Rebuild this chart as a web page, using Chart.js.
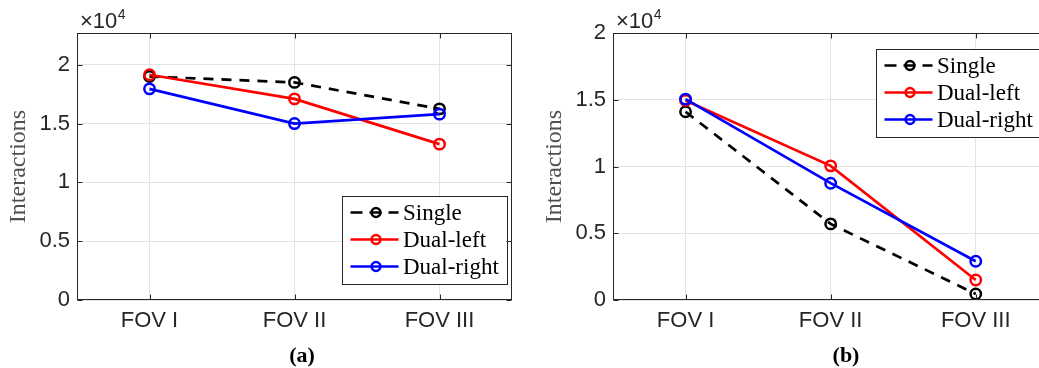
<!DOCTYPE html>
<html><head><meta charset="utf-8">
<script src="https://cdn.jsdelivr.net/npm/chart.js@4"></script>
<style>
html,body{margin:0;padding:0;background:#fff;width:1039px;height:368px;overflow:hidden;position:relative;}
canvas{position:absolute;top:0;}
#ca{left:0}
#cb{left:536px}
.cap{position:absolute;font:bold 22px 'Liberation Serif',serif;color:#000;transform:translate(-50%,-50%);white-space:nowrap;}
</style></head><body>
<canvas id="ca" width="520" height="368"></canvas>
<canvas id="cb" width="520" height="368"></canvas>
<script>
// ---- data ----
const categories = ['FOV I', 'FOV II', 'FOV III'];
const seriesNames = ['Single', 'Dual-left', 'Dual-right'];
const singleA    = [19000, 18500, 16250];
const dualLeftA  = [19150, 17100, 13250];
const dualRightA = [17950, 15000, 15800];
const singleB    = [14100, 5700, 450];
const dualLeftB  = [14950, 10050, 1500];
const dualRightB = [15050, 8750, 2900];
const yTickValues = [0, 5000, 10000, 15000, 20000];
const yMaxA = 22700;
const yMaxB = 20000;
const scaleFactor = 10000;
const exponentBase = '×10';
const exponentPower = '4';
const yTitle = 'Interactions';
const captions = ['(a)', '(b)'];

// ---- captions ----
[[captions[0], 302], [captions[1], 846]].forEach(([t, x]) => {
  const d = document.createElement('div');
  d.className = 'cap'; d.textContent = t;
  d.style.left = x + 'px'; d.style.top = '355px';
  document.body.appendChild(d);
});

const AX = '#262626';

const framePlugin = {
  id: 'framePlugin',
  afterDatasetsDraw(chart) {
    const { ctx, chartArea: a } = chart;
    const o = chart.options.plugins.framePlugin;
    // legend box
    const bx = a.left + o.dx, by = a.top + o.dy;
    ctx.save();
    ctx.fillStyle = '#fff';
    ctx.fillRect(bx, by, o.w, o.h);
    ctx.strokeStyle = AX; ctx.lineWidth = 1;
    ctx.strokeRect(Math.round(bx) + 0.5, Math.round(by) + 0.5, o.w, o.h);
    chart.data.datasets.forEach((ds, i) => {
      const cy = by + 16.5 + i * 27;
      const x0 = bx + 8.5, x1 = bx + 56.5, xm = bx + 34;
      ctx.strokeStyle = ds.borderColor; ctx.lineWidth = ds.borderWidth;
      ctx.setLineDash(ds.borderDash && ds.borderDash.length ? [12, 7] : []);
      ctx.beginPath(); ctx.moveTo(x0, cy); ctx.lineTo(x1, cy); ctx.stroke();
      ctx.setLineDash([]);
      ctx.lineWidth = ds.pointBorderWidth;
      ctx.beginPath(); ctx.arc(xm, cy, ds.pointRadius - 0.8, 0, Math.PI * 2); ctx.stroke();
      ctx.fillStyle = '#000';
      ctx.font = '23px "Liberation Serif", serif';
      ctx.textBaseline = 'middle'; ctx.textAlign = 'left';
      ctx.fillText(ds.label, bx + 61, cy + 1);
    });
    ctx.restore();
  },
  afterDraw(chart) {
    const { ctx, chartArea: a, scales: { x, y } } = chart;
    ctx.save();
    ctx.strokeStyle = AX; ctx.lineWidth = 1;
    const L = Math.round(a.left) + 0.5, R = Math.round(a.right) - 0.5;
    const T = Math.round(a.top) + 0.5, B = Math.round(a.bottom) - 0.5;
    ctx.strokeRect(L, T, R - L, B - T);
    ctx.beginPath();
    x.ticks.forEach((t, i) => {
      const px = Math.round(x.getPixelForTick(i)) + 0.5;
      ctx.moveTo(px, B); ctx.lineTo(px, B - 5);
      ctx.moveTo(px, T); ctx.lineTo(px, T + 5);
    });
    y.ticks.forEach((t, i) => {
      const py = Math.round(y.getPixelForTick(i)) + 0.5;
      ctx.moveTo(L, py); ctx.lineTo(L + 5, py);
      ctx.moveTo(R, py); ctx.lineTo(R - 5, py);
    });
    ctx.stroke();
    // exponent label
    ctx.fillStyle = AX;
    ctx.textBaseline = 'alphabetic'; ctx.textAlign = 'left';
    ctx.font = '22px "Liberation Sans", Arial, sans-serif';
    const ex = a.left + 3, ey = a.top - 5;
    ctx.fillText(exponentBase, ex, ey);
    const w = ctx.measureText(exponentBase).width;
    ctx.font = '14px "Liberation Sans", Arial, sans-serif';
    ctx.fillText(exponentPower, ex + w + 0.5, ey - 9);
    ctx.restore();
  }
};

function makeDatasets(s, l, r) {
  const base = { borderWidth: 2.7, pointRadius: 5.2, pointBorderWidth: 2.5, pointBackgroundColor: 'rgba(0,0,0,0)', tension: 0, fill: false };
  return [
    Object.assign({}, base, { label: seriesNames[0], data: s, borderColor: '#000', pointBorderColor: '#000', borderDash: [10, 8], order: 3 }),
    Object.assign({}, base, { label: seriesNames[1], data: l, borderColor: '#ff0000', pointBorderColor: '#ff0000', order: 2 }),
    Object.assign({}, base, { label: seriesNames[2], data: r, borderColor: '#0000ff', pointBorderColor: '#0000ff', order: 1 })
  ];
}

function makeChart(id, datasets, yMax, legendPos, padRight) {
  return new Chart(document.getElementById(id), {
    type: 'line',
    data: { labels: categories, datasets },
    plugins: [framePlugin],
    options: {
      responsive: false,
      animation: false,
      layout: { padding: { top: 33, right: padRight, left: 0, bottom: 0 } },
      plugins: {
        legend: { display: false },
        tooltip: { enabled: false },
        framePlugin: legendPos
      },
      scales: {
        x: {
          type: 'category',
          offset: true,
          grid: { color: '#e4e4e4', lineWidth: 1, drawTicks: false, offset: false },
          border: { display: false },
          ticks: { color: AX, padding: 8, font: { family: '"Liberation Sans", Arial, sans-serif', size: 22 }, maxRotation: 0 },
          afterFit(s) { s.height = 68; }
        },
        y: {
          min: 0, max: yMax,
          grid: { color: '#e4e4e4', lineWidth: 1, drawTicks: false },
          border: { display: false },
          afterBuildTicks(s) { s.ticks = yTickValues.map(v => ({ value: v })); },
          ticks: {
            color: AX, padding: 7,
            font: { family: '"Liberation Sans", Arial, sans-serif', size: 22 },
            callback: v => String(v / scaleFactor)
          },
          title: {
            display: true, text: yTitle, color: '#505050',
            font: { family: '"Liberation Serif", serif', size: 24 },
            padding: { top: 4, bottom: 0 }
          },
          afterFit(s) { s.width = 77; }
        }
      }
    }
  });
}

makeChart('ca', makeDatasets(singleA, dualLeftA, dualRightA), yMaxA, { dx: 265, dy: 163, w: 165, h: 88 }, 8);
makeChart('cb', makeDatasets(singleB, dualLeftB, dualRightB), yMaxB, { dx: 263, dy: 16, w: 165, h: 88 }, 6);
</script>
</body></html>
